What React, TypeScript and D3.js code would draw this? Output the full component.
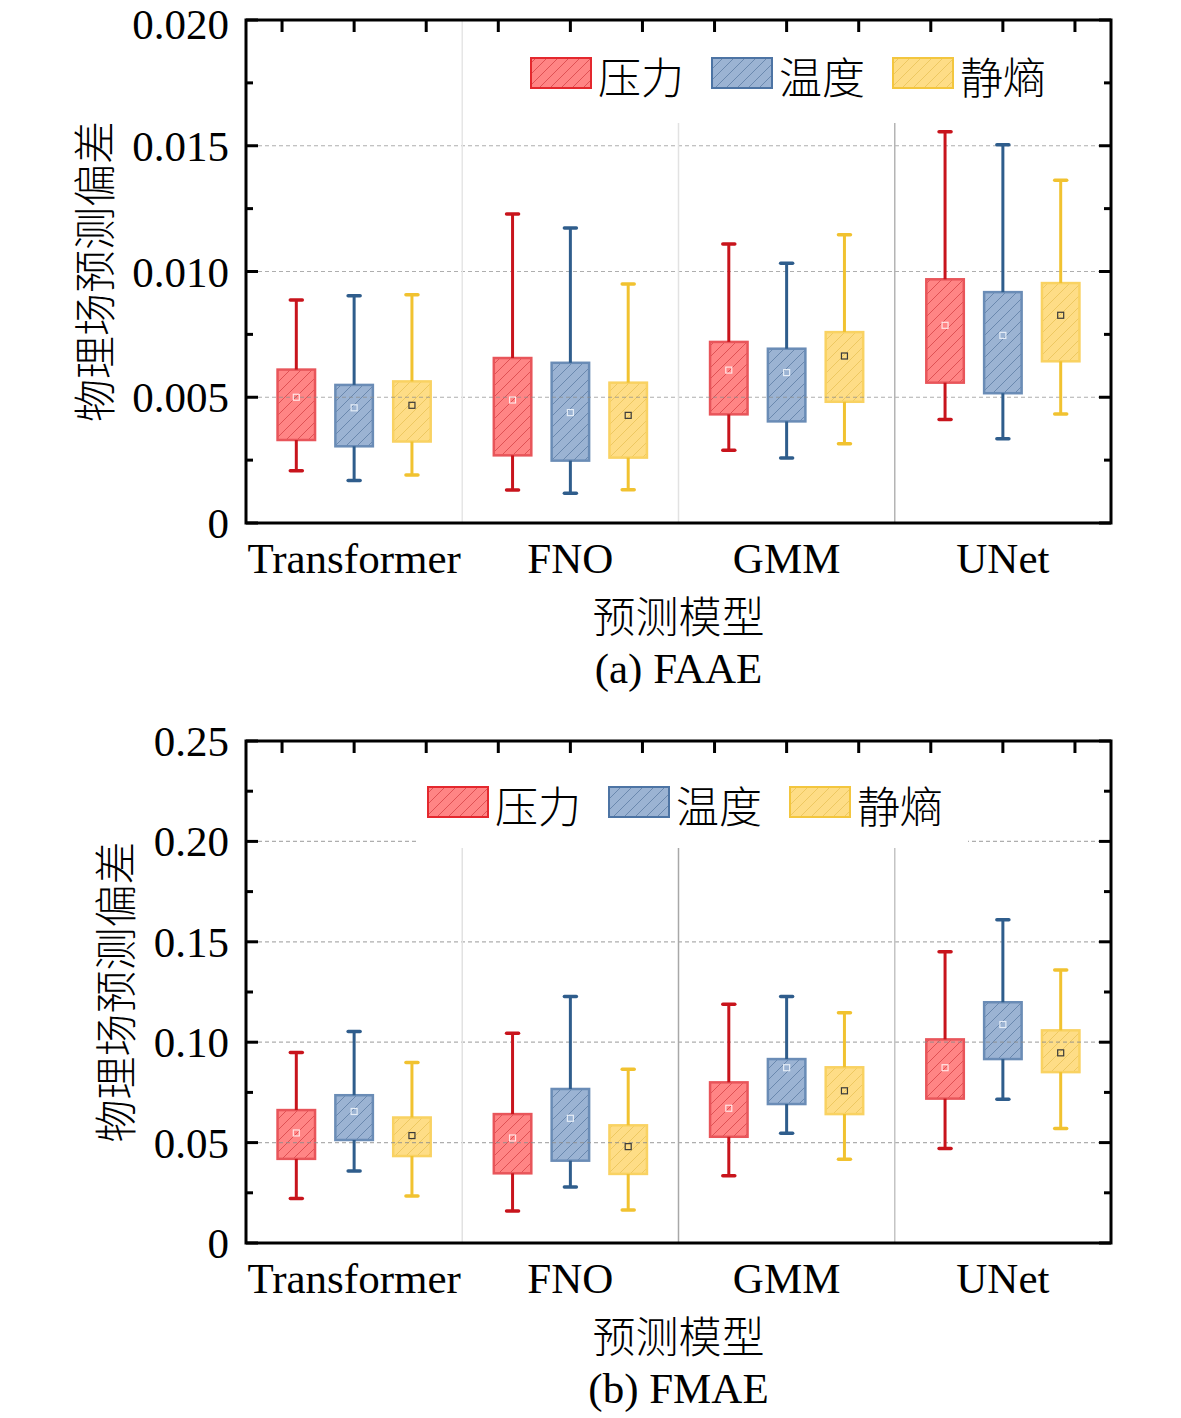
import React, { useRef, useEffect } from 'react';
import * as d3 from 'd3';

// [lower whisker, q1, q3, upper whisker, mean] per model
const models = ['Transformer', 'FNO', 'GMM', 'UNet'];
const seriesNames = ['压力', '温度', '静熵'];

const faaePressure = [
  [0.00208, 0.0033, 0.0061, 0.00887, 0.005],
  [0.00131, 0.00269, 0.00656, 0.01229, 0.00489],
  [0.00289, 0.00432, 0.0072, 0.01109, 0.00608],
  [0.00412, 0.00558, 0.00969, 0.01556, 0.00786]
];
const faaeTemperature = [
  [0.00169, 0.00305, 0.00549, 0.00904, 0.00458],
  [0.00118, 0.00248, 0.00637, 0.01173, 0.00439],
  [0.00258, 0.00404, 0.00693, 0.01033, 0.00598],
  [0.00335, 0.00516, 0.00918, 0.01504, 0.00746]
];
const faaeEntropy = [
  [0.00191, 0.00324, 0.00563, 0.00908, 0.00468],
  [0.00132, 0.0026, 0.00558, 0.0095, 0.00428],
  [0.00315, 0.00482, 0.00759, 0.01146, 0.00664],
  [0.00433, 0.00643, 0.00954, 0.01363, 0.00826]
];

const fmaePressure = [
  [0.0222, 0.0419, 0.0662, 0.0949, 0.0548],
  [0.0159, 0.0347, 0.0642, 0.1044, 0.0523],
  [0.0335, 0.0529, 0.08, 0.1189, 0.0671],
  [0.047, 0.0719, 0.1014, 0.1451, 0.0873]
];
const fmaeTemperature = [
  [0.0359, 0.0513, 0.0736, 0.1053, 0.0655],
  [0.0279, 0.041, 0.0767, 0.1227, 0.0621],
  [0.0546, 0.0692, 0.0916, 0.1227, 0.0873],
  [0.0716, 0.0916, 0.1199, 0.161, 0.1088]
];
const fmaeEntropy = [
  [0.0234, 0.0433, 0.0625, 0.0899, 0.0535],
  [0.0164, 0.0344, 0.0586, 0.0865, 0.048],
  [0.0417, 0.0642, 0.0875, 0.1147, 0.0758],
  [0.057, 0.0851, 0.1059, 0.1359, 0.0947]
];

const faaeTicks = [0, 0.005, 0.01, 0.015, 0.02];
const faaeTickLabels = ['0', '0.005', '0.010', '0.015', '0.020'];
const fmaeTicks = [0, 0.05, 0.1, 0.15, 0.2, 0.25];
const fmaeTickLabels = ['0', '0.05', '0.10', '0.15', '0.20', '0.25'];

const xTitle = '预测模型';
const yTitle = '物理场预测偏差';

const palette = [
  { fill: '#ff8585', edge: '#e8555a', hatch: '#d23c40', whisker: '#c8141c', mean: '#ffe4e4', swatchEdge: '#e4282e' },
  { fill: '#9bb3d3', edge: '#6a8cb6', hatch: '#56779f', whisker: '#2f5d8c', mean: '#e4ecf6', swatchEdge: '#4d74a4' },
  { fill: '#fedd86', edge: '#f9d262', hatch: '#e6c052', whisker: '#f1c230', mean: '#3a3a3a', swatchEdge: '#f3c63e' }
];

const serif = '"Liberation Serif", "Times New Roman", serif';
const cjk = '"Noto Sans CJK SC", "Noto Sans CJK JP", sans-serif';

const W = 1181;
const H = 1418;
const L = 246;
const R = 1111;

const panels = [
  {
    top: 20, bottom: 523, domain: [0, 0.02], major: faaeTicks, labels: faaeTickLabels, minorStep: 0.0025,
    data: [faaePressure, faaeTemperature, faaeEntropy], caption: '(a) FAAE', titleX: 92,
    legendX: 531, legendY: 58, box: [521, 1071, 123], sep: ['#e6e6e6', '#e2e2e2', '#b4b4b4']
  },
  {
    top: 741, bottom: 1243, domain: [0, 0.25], major: fmaeTicks, labels: fmaeTickLabels, minorStep: 0.025,
    data: [fmaePressure, fmaeTemperature, fmaeEntropy], caption: '(b) FMAE', titleX: 113,
    legendX: 428, legendY: 787, box: [418, 968, 848], sep: ['#e2e2e2', '#a8a8a8', '#c4c4c4']
  }
];

const App: React.FC = () => {
  const ref = useRef<SVGSVGElement | null>(null);

  useEffect(() => {
    if (!ref.current) return;
    const svg = d3.select(ref.current);
    svg.selectAll('*').remove();

    const defs = svg.append('defs');
    palette.forEach((c, i) => {
      const p = defs
        .append('pattern')
        .attr('id', `hatch-${i}`)
        .attr('patternUnits', 'userSpaceOnUse')
        .attr('width', 11)
        .attr('height', 11);
      p.append('rect').attr('width', 11).attr('height', 11).attr('fill', c.fill);
      p.append('path')
        .attr('d', 'M0,11 L11,0 M-3,3 L3,-3 M8,14 L14,8')
        .attr('stroke', c.hatch)
        .attr('stroke-width', 0.9)
        .attr('stroke-opacity', 0.8);
    });

    panels.forEach(pn => {
      const g = svg.append('g');
      const x0 = d3.scaleBand<string>().domain(models).range([L, R]);
      const x1 = d3.scalePoint<string>().domain(seriesNames).range([0, x0.bandwidth()]).padding(0.87);
      const y = d3.scaleLinear().domain(pn.domain).range([pn.bottom, pn.top]);
      const bw = 37.5;

      // boxes
      pn.data.forEach((series, si) => {
        const c = palette[si];
        series.forEach((d, mi) => {
          const cx = (x0(models[mi]) as number) + (x1(seriesNames[si]) as number);
          g.append('rect')
            .attr('x', cx - bw / 2)
            .attr('y', y(d[2]))
            .attr('width', bw)
            .attr('height', y(d[1]) - y(d[2]))
            .attr('fill', `url(#hatch-${si})`)
            .attr('stroke', c.edge)
            .attr('stroke-width', 2.5);
        });
      });

      // grid drawn over the boxes
      pn.major.slice(1).forEach(v => {
        if (v >= pn.domain[1]) return;
        g.append('line')
          .attr('x1', L + 12)
          .attr('x2', R - 12)
          .attr('y1', y(v))
          .attr('y2', y(v))
          .attr('stroke', '#8c8c8c')
          .attr('stroke-opacity', 0.7)
          .attr('stroke-width', 1.2)
          .attr('stroke-dasharray', '4,3');
      });

      // whiskers, caps, means
      pn.data.forEach((series, si) => {
        const c = palette[si];
        series.forEach((d, mi) => {
          const cx = (x0(models[mi]) as number) + (x1(seriesNames[si]) as number);
          [[d[0], d[1]], [d[2], d[3]]].forEach(([a, b]) => {
            g.append('line')
              .attr('x1', cx).attr('x2', cx)
              .attr('y1', y(a)).attr('y2', y(b))
              .attr('stroke', c.whisker)
              .attr('stroke-width', 3);
          });
          [d[0], d[3]].forEach(v => {
            g.append('line')
              .attr('x1', cx - 6).attr('x2', cx + 6)
              .attr('y1', y(v)).attr('y2', y(v))
              .attr('stroke', c.whisker)
              .attr('stroke-width', 3.5)
              .attr('stroke-linecap', 'round');
          });
          g.append('rect')
            .attr('x', cx - 3)
            .attr('y', y(d[4]) - 3)
            .attr('width', 6)
            .attr('height', 6)
            .attr('fill', 'none')
            .attr('stroke', c.mean)
            .attr('stroke-width', 1.2);
        });
      });

      // group separators
      models.slice(1).forEach((m, i) => {
        const sx = x0(m) as number;
        g.append('line')
          .attr('x1', sx).attr('x2', sx)
          .attr('y1', pn.top).attr('y2', pn.bottom)
          .attr('stroke', pn.sep[i])
          .attr('stroke-width', 1.5);
      });

      // legend
      const [bx0, bx1, by1] = pn.box;
      g.append('rect')
        .attr('x', bx0)
        .attr('y', pn.top)
        .attr('width', bx1 - bx0)
        .attr('height', by1 - pn.top)
        .attr('fill', '#fff');
      seriesNames.forEach((name, si) => {
        const lx = pn.legendX + si * 181;
        g.append('rect')
          .attr('x', lx)
          .attr('y', pn.legendY)
          .attr('width', 60)
          .attr('height', 30)
          .attr('fill', `url(#hatch-${si})`)
          .attr('stroke', palette[si].swatchEdge)
          .attr('stroke-width', 2);
        g.append('text')
          .attr('x', lx + 67)
          .attr('y', pn.legendY + 17)
          .attr('dominant-baseline', 'central')
          .attr('font-family', cjk)
          .attr('font-weight', 300)
          .attr('font-size', 43)
          .attr('fill', '#000')
          .text(name);
      });

      // frame and ticks
      g.append('rect')
        .attr('x', L)
        .attr('y', pn.top)
        .attr('width', R - L)
        .attr('height', pn.bottom - pn.top)
        .attr('fill', 'none')
        .attr('stroke', '#000')
        .attr('stroke-width', 3);

      const minors = d3.range(pn.domain[0], pn.domain[1] + 1e-9, pn.minorStep);
      minors.forEach((v, i) => {
        const len = i % 2 === 0 ? 12 : 7;
        [[L, L + len], [R, R - len]].forEach(([a, b]) => {
          g.append('line')
            .attr('x1', a).attr('x2', b)
            .attr('y1', y(v)).attr('y2', y(v))
            .attr('stroke', '#000')
            .attr('stroke-width', 3);
        });
      });

      const topTicks = d3.scaleLinear().domain([0, 12]).range([L, R]);
      d3.range(12).forEach(i => {
        const tx = topTicks(i + 0.5);
        g.append('line')
          .attr('x1', tx).attr('x2', tx)
          .attr('y1', pn.top).attr('y2', pn.top + 12)
          .attr('stroke', '#000')
          .attr('stroke-width', 3);
      });

      pn.major.forEach((v, i) => {
        g.append('text')
          .attr('x', L - 17)
          .attr('y', Math.max(y(v) + 15, 39))
          .attr('text-anchor', 'end')
          .attr('font-family', serif)
          .attr('font-size', 43)
          .attr('fill', '#000')
          .text(pn.labels[i]);
      });

      models.forEach(m => {
        g.append('text')
          .attr('x', (x0(m) as number) + x0.bandwidth() / 2)
          .attr('y', pn.bottom + 50)
          .attr('text-anchor', 'middle')
          .attr('font-family', serif)
          .attr('font-size', 43)
          .attr('fill', '#000')
          .text(m);
      });

      const cxp = (L + R) / 2;
      g.append('text')
        .attr('x', cxp)
        .attr('y', pn.bottom + 91)
        .attr('text-anchor', 'middle')
        .attr('dominant-baseline', 'central')
        .attr('font-family', cjk)
        .attr('font-weight', 300)
        .attr('font-size', 43)
        .attr('fill', '#000')
        .text(xTitle);

      g.append('text')
        .attr('x', cxp)
        .attr('y', pn.bottom + 160)
        .attr('text-anchor', 'middle')
        .attr('font-family', serif)
        .attr('font-size', 43)
        .attr('fill', '#000')
        .text(pn.caption);

      g.append('text')
        .attr('transform', `translate(${pn.titleX},${(pn.top + pn.bottom) / 2}) rotate(-90)`)
        .attr('text-anchor', 'middle')
        .attr('dominant-baseline', 'central')
        .attr('font-family', cjk)
        .attr('font-weight', 300)
        .attr('font-size', 43)
        .attr('fill', '#000')
        .text(yTitle);
    });
  }, []);

  return (
    <svg
      ref={ref}
      width={W}
      height={H}
      viewBox={`0 0 ${W} ${H}`}
      style={{ position: 'absolute', left: 0, top: 0, background: '#fff' }}
    />
  );
};

export default App;
